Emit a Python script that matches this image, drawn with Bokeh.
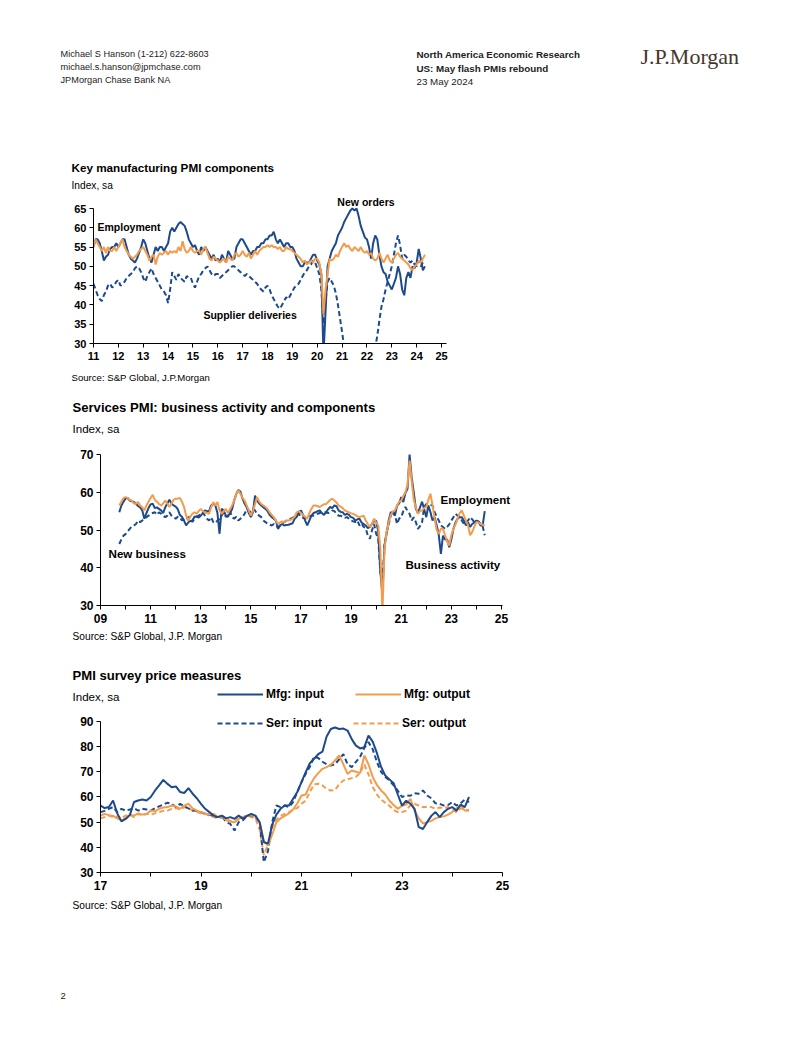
import numpy as np
from bokeh.plotting import figure
from bokeh.models import Range1d, FixedTicker, Label, Legend, LegendItem
from bokeh.embed import file_html
from bokeh.resources import INLINE

NAVY = "#1d4a8c"
ORANGE = "#f39c4d"
FONT = "Liberation Sans"

# ---------------- Chart 1: Key manufacturing PMI components (monthly from Jan 2011)
c1_start = 2011.0
c1_new_orders = [
    55, 57, 57, 56, 54, 51.5, 52.5, 53, 54.5, 55, 55, 56,
    55, 56, 57, 57, 55, 53, 52, 51.5, 51, 52, 53.5, 55,
    57, 56, 54, 52, 51, 53, 55, 54, 55, 55, 54, 55,
    56, 59, 60, 59, 60, 61, 61.5, 61, 60.5, 59, 57, 56,
    55, 55.5, 54, 53, 55, 54, 55, 54, 53, 52, 53, 51.5,
    52, 51, 53, 52, 51, 54, 53, 52, 52, 55, 56, 57,
    57, 56, 55, 54, 53, 54, 54, 55, 55, 56, 56, 57,
    57, 58, 58, 59, 57, 56, 57, 56, 55, 56, 56, 55,
    55, 54, 52, 51, 50, 50, 51, 51, 51, 52, 53, 53,
    51.5, 50.5, 48, 27, 38, 50, 52, 54, 55, 56, 58, 59,
    60, 61.5, 62.5, 63.5, 64.5, 65, 64.5, 65, 63, 60.5, 59, 57.5,
    57, 55, 52, 56, 58, 57, 53, 50, 48.5, 48, 46, 45,
    44, 45.5, 47, 50, 48, 44, 42.5, 47, 48.5, 47, 50, 49.5,
    51, 54.5, 52, 49, 50,
]
c1_employment = [
    55, 57, 56, 55, 54, 55, 53.5, 55, 54, 54, 55, 54,
    55, 56, 57, 55, 54, 53, 52.5, 52, 52.5, 53, 54, 54.5,
    55, 54, 53, 51.5, 52.5, 53, 50.5, 52.5, 53.5, 53, 53.5, 54,
    53, 54, 53.5, 54, 53.5, 55, 54, 56.5, 54.5, 53.5, 54, 55,
    54, 53.5, 54, 54, 53, 54.5, 55, 53.5, 52, 51.5, 52.5, 52,
    51.5, 51, 51.5, 52, 51, 52.5, 52, 51.5, 53, 53.5, 52.5, 53,
    54, 53, 52.5, 53.5, 52, 53, 54, 53, 54, 54.5, 55, 55,
    55.5, 55, 55.5, 55, 55, 54.5, 55, 54, 54, 55, 54.5, 54.5,
    54, 53.5, 53, 52.5, 52, 51, 51.5, 50.5, 51, 51.5, 51, 52,
    52, 51, 48, 37.5, 44, 48, 52, 51.5, 52, 53, 52.5, 54,
    55, 56, 55, 55.5, 54.5, 54, 55, 54.5, 54, 55, 54, 53.5,
    54, 53, 53.5, 52, 51.5, 52, 53.5, 52, 51, 52, 53, 51.5,
    51, 52, 53, 53.5, 52.5, 52, 51.5, 51, 50.5, 49.5, 49, 50,
    50.5, 51.5, 51, 52, 53,
]
c1_supplier = [
    45.5, 44, 42.5, 41.5, 41, 42.5, 43.5, 45, 45.5, 44.5, 45, 46,
    46.5, 45, 45.5, 46, 47, 47.5, 48, 48.5, 49.5, 50, 49.5, 48.5,
    47, 46, 47.5, 48.5, 49.5, 48, 47, 46, 45, 44, 43.5, 42.5,
    40.5, 44, 48.5, 47.5, 46.5, 48, 47, 46.5, 46, 47.5, 47, 47,
    45.5, 44.5, 46, 47.5, 48, 49, 49.5, 50, 49, 48, 47.5, 48,
    48, 47, 47.5, 48, 48.5, 49, 49.5, 50, 50, 49.5, 49, 48.5,
    48, 47.5, 48, 47.5, 47, 46.5, 46, 45.5, 44.5, 44, 43.5, 44.5,
    45, 44, 42.5, 41.5, 40.5, 39.5, 39, 40, 41, 42, 41.5, 42.5,
    43.5, 44.5, 45, 45.5, 46.5, 47.5, 48.5, 49, 50, 50.5, 51.5, 51,
    49.5, 48, 44, 35, 41, 46, 47, 46, 45, 43, 40, 36.5,
    33, 29, 25, 22, 20, 19, 18, 18, 17, 17, 18, 19,
    20, 21, 23, 26, 29, 32, 36, 39.5, 41.5, 44, 46, 48,
    50, 53, 56, 58, 55.5, 52, 53, 52.5, 51.5, 51, 51.5, 50.5,
    50, 51.5, 50, 51, 50.5,
]
c1_xticks = list(range(2011, 2026))
c1_xlabels = ["11", "12", "13", "14", "15", "16", "17", "18", "19", "20", "21", "22", "23", "24", "25"]
c1_yticks = [30, 35, 40, 45, 50, 55, 60, 65]

# ---------------- Chart 2: Services PMI (monthly from Oct 2009)
c2_start = 2009.75
c2_activity = [
    54.7, 56.5, 57.5,
    58.3, 58.5, 57.8, 57.6, 57.4, 57, 56.3, 56, 55.2, 53, 54.5, 55.8,
    56.8, 57, 55.8, 56, 55.6, 55.2, 54.5, 56, 57, 58, 57, 56.5,
    56.2, 55.5, 54, 53.5, 52.5, 51.2, 52, 52.4, 52.5, 53.5, 53.6, 53.3,
    53.8, 54.5, 55.2, 55, 55, 56.5, 56.9, 56.5, 54.5, 49, 55.6, 55.2,
    53.8, 53.5, 54.5, 55.5, 57.8, 59.5, 60.6, 60.2, 58.3, 57, 56, 54.5,
    53.4, 54.7, 59.1, 57.8, 57, 56.5, 56, 55.6, 55, 54, 53.4, 53,
    52.5, 50.3, 51.2, 51.6, 51.2, 51.3, 51.4, 51.6, 51.8, 53, 53.5, 54.7,
    55.2, 54, 52.5, 51.2, 52.5, 53.8, 54.5, 54.7, 55, 55.2, 54.5, 54,
    54.7, 55.5, 56.1, 55.8, 56.5, 56.3, 55.2, 54.8, 54.7, 54, 54.3, 54,
    53.4, 53.2, 52.5, 52.8, 53, 52, 51.6, 51.2, 50.5, 50.8, 51.6, 52.3,
    52.5, 49.5, 39, 33, 46, 49, 52.5, 54.7, 54.5, 53.8, 56.5, 57,
    58.7, 57.4, 59.8, 60.9, 70, 64, 60, 55.6, 54.5, 56, 57.5, 55.5,
    53.4, 56.5, 54.7, 52.5, 53.4, 51.2, 48.6, 43.7, 48.5, 47.5, 47.5, 45.4,
    47.5, 50.3, 52, 53, 53.4, 53.4, 52.5, 51.2, 52, 50.8, 51.6, 52,
    52.5, 52.1, 51.2, 51.2, 55,
]
c2_employment = [
    56.5, 57.5, 58.5,
    58.7, 58.5, 58, 57.8, 57, 57, 57.4, 56.5, 56, 55.2, 56.5, 57.5,
    58.5, 59.3, 58, 57.5, 56.9, 56.5, 57, 57.8, 57, 56.1, 57, 58,
    58.3, 58.3, 58.5, 57.5, 56.1, 53.8, 52.5, 53.5, 54.3, 54.7, 54.3, 55,
    55.6, 55, 54.7, 54.5, 54.3, 56, 57.4, 56.5, 57.4, 55.2, 54.3, 55,
    55.6, 54.5, 55.5, 56.5, 57.8, 59.5, 60.5, 59.6, 58.5, 57.8, 56.5, 55.2,
    53.8, 55, 56.9, 58.7, 57.5, 56.9, 56.5, 56.1, 55.5, 54.7, 54, 53.4,
    52.5, 51.6, 52, 52.3, 52.1, 52.5, 52.5, 52.7, 53, 53.5, 54.7, 55,
    54.5, 54, 53.5, 53, 54.5, 55.6, 56.5, 56.5, 56.3, 56.1, 56.5, 56.8,
    56.9, 57.4, 58, 58.3, 57.8, 57.3, 56.5, 56.2, 55.8, 55.2, 54.9, 54.7,
    54.4, 54.3, 54, 53.6, 53.4, 53.6, 53.8, 52.5, 51.6, 50.8, 51.5, 53,
    52, 51.2, 45, 28, 45, 49.4, 52, 54, 54.9, 55.2, 56.5, 57.5,
    57.8, 59, 60, 62, 68.4, 63, 58, 56, 54.3, 55, 55.2, 55.8,
    56.1, 58, 59.6, 56.5, 53, 50, 49, 50.3, 50.3, 48.6, 47, 45.9,
    48.6, 50.3, 51.5, 53, 54.5, 55.2, 53.8, 52.5, 51.2, 48.6, 49.5, 50.8,
    52.1, 52, 51.6, 51.4, 51.2,
]
c2_new_business = [
    46.3, 47.5, 48.5,
    48.9, 49.6, 50.3, 51, 51.2, 51.6, 52.5, 52.1, 52.5, 53, 53.4, 53.8,
    54.3, 54.5, 54.7, 54, 54.7, 54.3, 53.8, 53.4, 53.8, 54.7, 53.8, 53.4,
    53, 53.5, 53.4, 52.5, 53, 52.8, 53.4, 53.4, 52.1, 53, 53.5, 53.8,
    54.2, 54.7, 53.8, 53, 52.5, 53.4, 52.1, 51.8, 52.5, 53, 53.8, 54.7,
    53.5, 53.8, 55, 53.4, 53, 53.5, 52.5, 53, 53.4, 54.3, 55.4, 55.2,
    54.7, 55.6, 55.2, 54.2, 53.8, 53.4, 52.5, 52.1, 51.6, 51.4, 51.2, 51.6,
    51, 50.8, 51.2, 51.6, 52.1, 52.5, 52.8, 53, 53.2, 53.6, 54, 54.3,
    53.4, 53.2, 53, 53.4, 53.5, 53.8, 53.8, 54, 54.3, 54.5, 54.7, 54.7,
    54.7, 54.5, 54.7, 55.2, 55, 54.3, 53.8, 53.8, 53.4, 53.2, 53.4, 53,
    52.5, 52.3, 52.1, 52.5, 51.2, 51.8, 50.8, 50.5, 48.5, 47.7, 49.9, 51.6,
    49, 47.7, 39, 35.8, 45.9, 49.4, 51.5, 53.8, 55.2, 54, 51.6, 53,
    53.4, 55, 56.1, 55, 54.3, 52.5, 53.4, 52.1, 50.3, 51, 52.1, 56.1,
    56.9, 56.9, 56.7, 56.5, 54.7, 53.5, 52.5, 51.2, 50.8, 50.3, 50.8, 51.5,
    52.5, 53.4, 54.3, 53.8, 53.4, 52.5, 51.6, 52, 52.5, 53.4, 52.8, 52.1,
    52.5, 52.3, 51.6, 51, 48.6,
]
c2_xticks = list(range(2009, 2026))
c2_xlabels = ["09", "", "11", "", "13", "", "15", "", "17", "", "19", "", "21", "", "23", "", "25"]
c2_yticks = [30, 40, 50, 60, 70]

# ---------------- Chart 3: PMI survey price measures (monthly from Jan 2017)
c3_start = 2017.0
c3_mfg_input = [
    56.6, 55.6, 56, 58.6, 53.5, 50.3, 51.3, 52.8, 58, 58.6, 59, 58.6,
    60, 62.5, 64.6, 66.8, 65.2, 63.9, 64.2, 62, 61.6, 63.5, 61.3, 59.5,
    57.3, 55.3, 54, 52.6, 52, 52.6, 51.5, 52, 51.3, 52.6, 51.3, 52.5,
    53.3, 52.6, 50, 42, 41.5, 49, 53, 55.3, 56.6, 56.6, 59.3, 62,
    65.9, 69.9, 73.4, 75.2, 77, 78, 84, 87, 87.6, 87, 87.2, 86.4,
    83, 80.4, 79.3, 79.8, 84.4, 82, 77.5, 72, 68.5, 67, 65.5, 61,
    56.6, 58.5, 57.3, 55.3, 48, 47.3, 50, 52.5, 54, 52, 54, 55.3,
    56, 54.5, 57, 56, 60,
]
c3_mfg_output = [
    52.6, 53.3, 52.8, 52.5, 51.5, 50.7, 51.5, 53, 52.6, 53.5, 53, 53.2,
    54.6, 54.3, 55.3, 55.8, 56, 56.6, 56.3, 55.3, 56.6, 57.3, 55.5, 54.6,
    54, 53.5, 53, 53.3, 52, 52.5, 50.7, 50.2, 50, 51.3, 52, 52.6,
    52.6, 52.3, 50, 42.5, 40.7, 45, 50, 51.5, 52.5, 53.5, 55, 57.5,
    60.6, 61, 64.6, 67.5, 69.5, 71.2, 71.9, 72.8, 74.5, 76.5, 73, 69.2,
    70.5, 70, 69.5, 76.5, 73, 68, 64.8, 62.6, 61, 58.5, 56.8, 55.3,
    56.5, 57, 59.3, 54.6, 51.5, 49.5, 50, 50.5, 51.5, 52, 52.3, 53,
    54, 55.5, 56.6, 54.6, 54.5,
]
c3_ser_input = [
    54, 54.5, 55.3, 56, 54, 55.3, 54.6, 55, 55.5, 54.6, 55.3, 55,
    54.6, 55.5, 56.3, 57, 57.7, 57.3, 56, 57.3, 56.3, 55.5, 54.6, 54.5,
    54, 53.3, 53, 52.3, 52, 52.5, 50, 49.3, 46.7, 50, 50.7, 52.6,
    52.6, 52, 50, 34.1, 38.5, 50, 56.6, 56, 56.6, 56, 58, 62,
    65.9, 69.2, 72, 76, 75.5, 74, 73, 72.5, 73, 75, 77, 73,
    71.9, 74, 76, 79.5, 81.8, 79, 74, 70, 68, 66.6, 64.6, 62.5,
    60, 60.6, 60.5, 61.5, 61.3, 62.6, 60.6, 59.5, 57.5, 57.3, 56.6, 56.8,
    58, 56.6, 57.5, 59, 58,
]
c3_ser_output = [
    51.5, 52, 52.6, 52, 52.3, 51.5, 52.6, 53, 52, 53.3, 52.6, 53.3,
    53, 53.5, 54, 54.5, 54.6, 55.3, 55.6, 55, 56, 55.5, 54.6, 54,
    53.5, 53.3, 52.6, 52, 51.5, 51.8, 51.3, 50.5, 50, 51.3, 52, 52.6,
    52, 51.5, 47, 37, 41, 48, 51, 52.6, 53.3, 54, 55, 55.6,
    57.3, 58.6, 62, 65, 65.3, 64.6, 63.2, 62.6, 62.8, 65, 66.6, 67,
    67.5, 68, 69.5, 73, 69, 64, 61, 59, 57.7, 56.5, 54.8, 54,
    54, 54.6, 56.8, 57.2, 56.6, 56, 56, 56, 55.3, 55.8, 55.6, 56,
    55, 54, 55.5, 55, 54.8,
]
c3_xticks = list(range(2017, 2026))
c3_xlabels = ["17", "", "19", "", "21", "", "23", "", "25"]
c3_yticks = [30, 40, 50, 60, 70, 80, 90]


def months(start, n):
    return start + np.arange(n) / 12.0


def plain(fig):
    fig.outline_line_color = None
    fig.xgrid.visible = False
    fig.ygrid.visible = False
    fig.background_fill_color = "white"
    fig.border_fill_color = "white"


def band(height):
    f = figure(width=802, height=height, x_range=Range1d(0, 802), y_range=Range1d(height, 0),
               min_border=0, toolbar_location=None, output_backend="svg", title=None,
               x_axis_location=None, y_axis_location=None)
    plain(f)
    return f


def make_chart(height, fl, fr, ft, fb, xr, yr, xb, yb, xticks, xlabels, yticks, tick_size):
    p = figure(width=802, height=height, x_range=Range1d(*xr), y_range=Range1d(*yr),
               min_border_left=fl, min_border_right=802 - fr,
               min_border_top=ft, min_border_bottom=height - fb,
               toolbar_location=None, output_backend="svg", title=None)
    plain(p)
    for ax in (p.xaxis[0], p.yaxis[0]):
        ax.axis_line_color = "black"
        ax.axis_line_width = 1
        ax.major_tick_line_color = "black"
        ax.major_tick_in = 0
        ax.major_tick_out = 4
        ax.minor_tick_line_color = None
        ax.major_label_text_font = FONT
        ax.major_label_text_font_style = "bold"
        ax.major_label_text_font_size = tick_size
        ax.major_label_text_color = "black"
    p.xaxis.ticker = FixedTicker(ticks=xticks)
    p.xaxis.major_label_overrides = {t: l for t, l in zip(xticks, xlabels)}
    p.xaxis.major_label_standoff = 4
    p.xaxis.bounds = xb
    p.yaxis.ticker = FixedTicker(ticks=yticks)
    p.yaxis.major_label_standoff = 3
    p.yaxis.bounds = yb
    return p


def add_text(p, x, y, text, size, bold=False, color="black", font=FONT):
    p.add_layout(Label(x=x, y=y, text=text, text_font=font, text_font_size=size,
                       text_font_style="bold" if bold else "normal",
                       text_color=color, text_baseline="middle", text_align="left"))


def make_legend(items, loc):
    return Legend(items=[LegendItem(label=l, renderers=[r]) for l, r in items],
                  location=loc, orientation="horizontal",
                  glyph_width=46, glyph_height=14, label_height=14, label_standoff=3,
                  spacing=31, padding=0, margin=0,
                  border_line_color=None, background_fill_alpha=0,
                  label_text_font=FONT, label_text_font_size="12px",
                  label_text_font_style="bold", label_text_color="black")


# ---------------- Band H: page y 0..192 (header + chart 1 titles)
bh = band(192)
for (x, y, t, s, b) in [
    (60, 53, "Michael S Hanson  (1-212) 622-8603", "9.2px", False),
    (60, 66, "michael.s.hanson@jpmchase.com", "9.2px", False),
    (60, 79, "JPMorgan Chase Bank NA", "9.2px", False),
    (416, 54, "North America Economic Research", "9.8px", True),
    (416, 68, "US: May flash PMIs rebound", "9.8px", True),
    (416, 81, "23 May 2024", "9.8px", False),
]:
    add_text(bh, x, y, t, s, bold=b, color="#222222")
add_text(bh, 640, 56, "J.P.Morgan", "22px", color="#45362c", font="Liberation Serif")
add_text(bh, 71, 167, "Key manufacturing PMI components", "11.7px", bold=True)
add_text(bh, 71, 185, "Index, sa", "10.2px")

# ---------------- Chart 1: page y 192..365, plot area x 93..446, y 208..343
p1 = make_chart(173, 93, 446, 0, 151, (2011.0, 2025.2), (30, 65 + 16 / 3.857),
                (2011.0, 2025.2), (30, 65), c1_xticks, c1_xlabels, c1_yticks, "11px")
p1.line(months(c1_start, len(c1_supplier)), c1_supplier, line_color=NAVY, line_width=2, line_dash="5 3")
p1.line(months(c1_start, len(c1_new_orders)), c1_new_orders, line_color=NAVY, line_width=2)
p1.line(months(c1_start, len(c1_employment)), c1_employment, line_color=ORANGE, line_width=2)
add_text(p1, 2011.16, 60.1, "Employment", "10.5px", bold=True)
add_text(p1, 2020.81, 66.8, "New orders", "10.5px", bold=True)
add_text(p1, 2015.42, 37.5, "Supplier deliveries", "10.5px", bold=True)

# ---------------- Band 2: page y 365..440
b2 = band(75)
add_text(b2, 71, 12, "Source: S&P Global, J.P.Morgan", "9.6px")
add_text(b2, 72, 42, "Services PMI: business activity and components", "13.1px", bold=True)
add_text(b2, 72, 63, "Index, sa", "11.6px")

# ---------------- Chart 2: page y 440..628, plot area x 100..502, y 454..605
p2 = make_chart(188, 100, 515, 0, 165, (2009.0, 2009.0 + 415 / 25.06), (30, 70 + 14 / 3.775),
                (2009.0, 2025.04), (30, 70), c2_xticks, c2_xlabels, c2_yticks, "12px")
p2.line(months(c2_start, len(c2_new_business)), c2_new_business, line_color=NAVY, line_width=2, line_dash="5 3")
p2.line(months(c2_start, len(c2_activity)), c2_activity, line_color=NAVY, line_width=2)
p2.line(months(c2_start, len(c2_employment)), c2_employment, line_color=ORANGE, line_width=2)
add_text(p2, 2022.57, 58.1, "Employment", "11.6px", bold=True)
add_text(p2, 2009.32, 43.8, "New business", "11.6px", bold=True)
add_text(p2, 2021.17, 40.9, "Business activity", "11.6px", bold=True)

# ---------------- Band 3: page y 628..703 (source 2, chart 3 titles, legend row 1)
b3 = band(75)
add_text(b3, 72, 8, "Source: S&P Global, J.P. Morgan", "10.2px")
add_text(b3, 72, 47, "PMI survey price measures", "13.1px", bold=True)
add_text(b3, 72, 68, "Index, sa", "11.6px")
# legend keys: the manufacturing series drawn in this band's pixel ranges fall outside
# its visible area (x in years > 802 px), so only their legend entries show here
k_mi = b3.line(months(c3_start, len(c3_mfg_input)), c3_mfg_input, line_color=NAVY, line_width=2)
k_mo = b3.line(months(c3_start, len(c3_mfg_output)), c3_mfg_output, line_color=ORANGE, line_width=2)
b3.add_layout(make_legend([("Mfg: input", k_mi), ("Mfg: output", k_mo)], (217, 2)), "center")

# ---------------- Chart 3: page y 703..895, plot area x 100..502, y 721..872
p3 = make_chart(192, 100, 502, 0, 169, (2017.0, 2025.0), (30, 90 + 18 / 2.517),
                (2017.0, 2025.0), (30, 90), c3_xticks, c3_xlabels, c3_yticks, "12px")
r_so = p3.line(months(c3_start, len(c3_ser_output)), c3_ser_output, line_color=ORANGE, line_width=2, line_dash="5 3")
r_si = p3.line(months(c3_start, len(c3_ser_input)), c3_ser_input, line_color=NAVY, line_width=2, line_dash="5 3")
r_mo = p3.line(months(c3_start, len(c3_mfg_output)), c3_mfg_output, line_color=ORANGE, line_width=2)
r_mi = p3.line(months(c3_start, len(c3_mfg_input)), c3_mfg_input, line_color=NAVY, line_width=2)
p3.add_layout(make_legend([("Ser: input", r_si), ("Ser: output", r_so)], (117, 142)), "center")

# ---------------- Footer: page y 895..1037
bf = band(142)
add_text(bf, 72, 10, "Source: S&P Global, J.P. Morgan", "10.2px")
add_text(bf, 60, 100, "2", "9.5px", color="#222222")

open("out.html", "w").write(file_html([bh, p1, b2, p2, b3, p3, bf], INLINE))
